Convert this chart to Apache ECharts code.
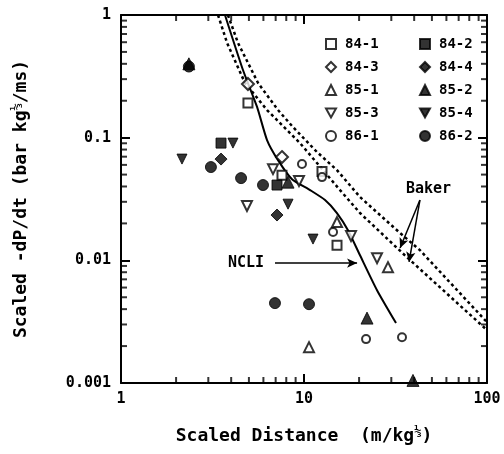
<!DOCTYPE html>
<html>
<head>
<meta charset="utf-8">
<script src="https://cdn.jsdelivr.net/npm/echarts@6/dist/echarts.min.js"></script>
<style>
html,body{margin:0;padding:0;background:#fff;}
#chart{width:504px;height:454px;}
</style>
</head>
<body>
<div id="chart"></div>
<script>
// minor tick values (log axes)
const xMinorTicks = [2,3,4,5,6,7,8,9,20,30,40,50,60,70,80,90];
const yMinorTicks = [0.002,0.003,0.004,0.005,0.006,0.007,0.008,0.009,
                     0.02,0.03,0.04,0.05,0.06,0.07,0.08,0.09,
                     0.2,0.3,0.4,0.5,0.6,0.7,0.8,0.9];

// measured points  [scaled distance, scaled -dP/dt]
const s84_1 = [[4.94,0.1915],[7.58,0.0495],[12.54,0.0530],[15.15,0.0133]];
const s84_2 = [[3.52,0.0903],[7.12,0.0411]];
const s84_3 = [[4.94,0.274],[7.58,0.0695]];
const s84_4 = [[3.52,0.0669],[7.12,0.0234]];
const s85_1 = [[15.15,0.0205],[28.77,0.0088],[10.65,0.00196]];
const s85_2 = [[2.35,0.40],[8.18,0.0434],[22.1,0.00338],[39.4,0.00105]];
const s85_3 = [[6.77,0.0554],[9.39,0.0443],[4.88,0.0277],[25.06,0.01042],[18.07,0.01576]];
const s85_4 = [[2.154,0.0669],[4.09,0.0903],[8.18,0.0287],[11.2,0.0149]];
const s86_1 = [[9.75,0.0609],[12.54,0.0477],[14.41,0.0170],[21.83,0.00228],[34.32,0.00236]];
const s86_2 = [[2.35,0.38],[3.10,0.0576],[4.53,0.0468],[5.97,0.0411],[6.94,0.00448],[10.65,0.00439]];

// NCLI curve
const ncli = [[3.70,1.0],[4.64,0.356],[5.54,0.178],[6.28,0.0956],[7.21,0.0656],[8.60,0.0459],
              [10.79,0.0374],[13.03,0.0310],[15.14,0.0243],[17.39,0.0176],[20.23,0.0110],
              [25.06,0.00571],[31.83,0.00308]];
// Baker curves
const bakerLow = [[3.39,1.0],[3.80,0.591],[4.76,0.279],[6.28,0.168],[9.51,0.0903],[15.73,0.0374],
                  [20.23,0.0243],[36.5,0.0106],[100,0.0027]];
const bakerHigh = [[3.84,1.0],[4.36,0.591],[5.61,0.279],[7.21,0.168],[8.71,0.122],[11.78,0.0763],
                   [15.14,0.0544],[20.23,0.0328],[33.5,0.0167],[43.0,0.0121],[100,0.00313]];

const mono = 'DejaVu Sans Mono';
const downTri = 'path://M0,0L10,0L5,9Z';

function pts(name, data, symbol, filled, size, rotate) {
  return {
    name: name, type: 'scatter', data: data,
    symbol: symbol, symbolSize: size, symbolRotate: rotate || 0,
    itemStyle: filled ? {color: '#000', borderColor: '#000', borderWidth: 1}
                      : {color: '#fff', borderColor: '#000', borderWidth: 2},
    z: 5
  };
}

// short inward ticks drawn as tiny rects at the axis edge
function tickSeries(data, size, offset) {
  return {type: 'scatter', data: data, symbol: 'rect', symbolSize: size, symbolOffset: offset,
          itemStyle: {color: '#000'}, silent: true, clip: false, z: 6};
}

function majorTick() {
  return {show: true, inside: true, length: 9, lineStyle: {color: '#000', width: 2}};
}

const legendText = {fontFamily: mono, fontWeight: 'bold', fontSize: 14, color: '#000', padding: [0,0,0,4]};

const chart = echarts.init(document.getElementById('chart'));
chart.setOption({
  animation: false,
  backgroundColor: '#fff',
  grid: {left: 121, top: 15, right: 17, bottom: 71},
  legend: [
    {orient: 'vertical', left: 325, top: 37, padding: 0, itemWidth: 10, itemHeight: 10, itemGap: 9,
     data: ['84-1','84-3','85-1',{name: '85-3', icon: downTri},'86-1'], textStyle: legendText},
    {orient: 'vertical', left: 419, top: 37, padding: 0, itemWidth: 10, itemHeight: 10, itemGap: 9,
     data: ['84-2','84-4','85-2',{name: '85-4', icon: downTri},'86-2'], textStyle: legendText}
  ],
  xAxis: [
    {type: 'log', min: 1, max: 100, logBase: 10, position: 'bottom',
     name: 'Scaled Distance  (m/kg{f|⅓})', nameLocation: 'middle', nameGap: 43,
     nameTextStyle: {fontFamily: mono, fontWeight: 'bold', fontSize: 18, color: '#000',
       rich: {f: {fontFamily: mono, fontWeight: 'bold', fontSize: 12, padding: [0,0,9,0]}}},
     axisLine: {show: true, lineStyle: {color: '#000', width: 2}},
     axisTick: majorTick(),
     axisLabel: {margin: 9, fontFamily: mono, fontWeight: 'bold', fontSize: 15, color: '#000'},
     splitLine: {show: false}},
    {type: 'log', min: 1, max: 100, logBase: 10, position: 'top',
     axisLine: {show: true, lineStyle: {color: '#000', width: 2}},
     axisTick: majorTick(),
     axisLabel: {show: false}, splitLine: {show: false}}
  ],
  yAxis: [
    {type: 'log', min: 0.001, max: 1, logBase: 10, position: 'left',
     name: 'Scaled -dP/dt (bar kg{f|⅓}/ms)', nameLocation: 'middle', nameRotate: 90, nameGap: 89,
     nameTextStyle: {fontFamily: mono, fontWeight: 'bold', fontSize: 18, color: '#000',
       rich: {f: {fontFamily: mono, fontWeight: 'bold', fontSize: 12, padding: [0,0,9,0]}}},
     axisLine: {show: true, lineStyle: {color: '#000', width: 2}},
     axisTick: majorTick(),
     axisLabel: {margin: 10, fontFamily: mono, fontWeight: 'bold', fontSize: 15, color: '#000'},
     splitLine: {show: false}},
    {type: 'log', min: 0.001, max: 1, logBase: 10, position: 'right',
     axisLine: {show: true, lineStyle: {color: '#000', width: 2}},
     axisTick: majorTick(),
     axisLabel: {show: false}, splitLine: {show: false}}
  ],
  graphic: [
    {type: 'text', left: 228, top: 256, style: {text: 'NCLI', font: 'bold 15px "DejaVu Sans Mono"', fill: '#000'}},
    {type: 'text', left: 406, top: 182, style: {text: 'Baker', font: 'bold 15px "DejaVu Sans Mono"', fill: '#000'}}
  ],
  series: [
    tickSeries(xMinorTicks.map(v => [v, 0.001]), [2, 6], [0, -3]),
    tickSeries(xMinorTicks.map(v => [v, 1]), [2, 6], [0, 3]),
    tickSeries(yMinorTicks.map(v => [1, v]), [6, 2], [3, 0]),
    tickSeries(yMinorTicks.map(v => [100, v]), [6, 2], [-3, 0]),
    {name: 'NCLI', type: 'line', data: ncli, showSymbol: false, symbol: 'none', smooth: 0.2,
     lineStyle: {color: '#000', width: 2}, z: 3,
     markLine: {silent: true, symbol: ['none', 'arrow'], symbolSize: [7, 10], label: {show: false},
       lineStyle: {color: '#000', width: 1.5, type: 'solid'},
       data: [[{coord: [6.94, 0.00949]}, {coord: [19.5, 0.00949]}]]}},
    {name: 'Baker', type: 'line', data: bakerLow, showSymbol: false, symbol: 'none',
     lineStyle: {color: '#000', width: 2.5, type: [3, 3]}, z: 3,
     markLine: {silent: true, symbol: ['none', 'arrow'], symbolSize: [7, 10], label: {show: false},
       lineStyle: {color: '#000', width: 1.5, type: 'solid'},
       data: [[{coord: [43.0, 0.031]}, {coord: [33.5, 0.0126]}],
              [{coord: [43.0, 0.031]}, {coord: [37.5, 0.0097]}]]}},
    {name: 'Baker2', type: 'line', data: bakerHigh, showSymbol: false, symbol: 'none',
     lineStyle: {color: '#000', width: 2.5, type: [3, 3]}, z: 3},
    pts('84-1', s84_1, 'rect', false, 9),
    pts('84-2', s84_2, 'rect', true, 10),
    pts('84-3', s84_3, 'diamond', false, 12),
    pts('84-4', s84_4, 'diamond', true, 12),
    pts('85-1', s85_1, 'triangle', false, 10),
    pts('85-2', s85_2, 'triangle', true, 12),
    pts('85-3', s85_3, 'triangle', false, 10, 180),
    pts('85-4', s85_4, 'triangle', true, 10, 180),
    pts('86-1', s86_1, 'circle', false, 8),
    pts('86-2', s86_2, 'circle', true, 11)
  ]
});
</script>
</body>
</html>
